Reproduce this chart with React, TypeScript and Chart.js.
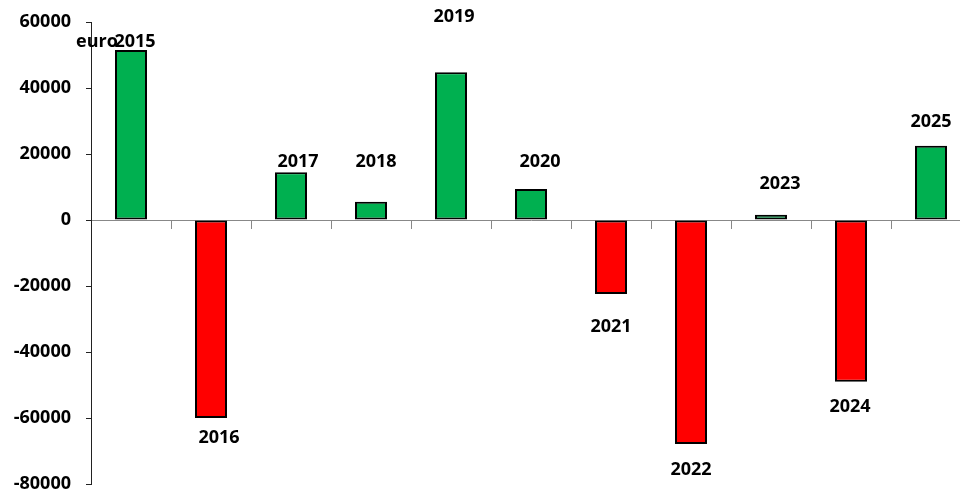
import React, { useEffect, useRef } from "react";
import { Chart, registerables } from "chart.js";

Chart.register(...registerables);

const years = ["2015", "2016", "2017", "2018", "2019", "2020", "2021", "2022", "2023", "2024", "2025"];
const values = [51500, -60000, 14500, 5500, 44800, 9400, -22400, -67900, 1600, -49000, 22500];
const yTicks = [60000, 40000, 20000, 0, -20000, -40000, -60000, -80000];
const unitLabel = "euro";

// label placement (pixels relative to bar end) — layout only
const labelDy = [-8, 20, -10, -40, -55, -27, 33, 26, -31, 25, -24];
const labelDx = [4, 8, 7, 5, 3, 9, 0, 0, 9, -1, 0];

const GREEN = "#00B050";
const RED = "#FF0000";
const FONT = "'Open Sans', 'DejaVu Sans', sans-serif";

const labelPlugin = {
  id: "yearLabels",
  afterDatasetsDraw(chart: any) {
    const ctx = chart.ctx;
    const area = chart.chartArea;
    ctx.save();
    ctx.font = `bold 18px ${FONT}`;
    ctx.fillStyle = "#000";
    ctx.textBaseline = "middle";
    ctx.textAlign = "left";
    ctx.fillText(unitLabel, area.left - 15, area.top + 20);
    ctx.textAlign = "center";
    const meta = chart.getDatasetMeta(0);
    meta.data.forEach((bar: any, i: number) => {
      const end = bar.y;
      ctx.fillText(years[i], bar.x + labelDx[i], end + labelDy[i]);
    });
    ctx.restore();
  },
};

export default function App() {
  const ref = useRef<HTMLCanvasElement>(null);
  useEffect(() => {
    if (!ref.current) return;
    const chart = new Chart(ref.current, {
      type: "bar",
      data: {
        labels: years,
        datasets: [
          {
            data: values,
            backgroundColor: values.map((v) => (v >= 0 ? GREEN : RED)),
            borderColor: "#000",
            borderWidth: 2,
            borderSkipped: false,
            barPercentage: 0.4,
            categoryPercentage: 1,
          },
        ],
      },
      options: {
        animation: false,
        responsive: false,
        devicePixelRatio: 1,
        layout: { padding: { top: 22, bottom: 12, left: 0, right: 29 } },
        plugins: {
          legend: { display: false },
          tooltip: { enabled: false },
        },
        scales: {
          x: {
            position: { y: 0 } as any,
            offset: true,
            afterFit: (scale: any) => {
              scale.height = 0;
            },
            grid: {
              display: true,
              offset: true,
              drawOnChartArea: false,
              drawTicks: true,
              tickLength: 8,
              color: "#888",
              lineWidth: 1,
            },
            border: { display: true, color: "#888", width: 1 },
            ticks: { display: false },
          },
          y: {
            min: -80000,
            max: 60000,
            afterBuildTicks: (scale: any) => {
              scale.ticks = yTicks.map((v) => ({ value: v }));
            },
            afterFit: (scale: any) => {
              scale.width = 91;
              scale.paddingTop = 0;
              scale.paddingBottom = 0;
            },
            grid: {
              display: true,
              drawOnChartArea: false,
              drawTicks: true,
              tickLength: 5,
              color: "#222",
              lineWidth: 1,
            },
            border: { display: true, color: "#222", width: 1 },
            ticks: {
              padding: 15,
              color: "#000",
              font: { family: FONT, size: 18, weight: "bold" },
              callback: (v: any) => String(v),
            },
          },
        },
      },
      plugins: [labelPlugin],
    });
    return () => chart.destroy();
  }, []);
  return (
    <div
      style={{
        position: "fixed",
        left: 0,
        top: 0,
        width: 960,
        height: 496,
        overflow: "hidden",
        background: "#fff",
      }}
    >
      <canvas ref={ref} width={1000} height={496} style={{ width: 1000, height: 496, display: "block" }} />
    </div>
  );
}
